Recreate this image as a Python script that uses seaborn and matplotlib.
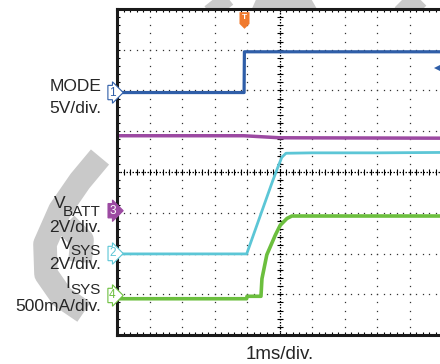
import matplotlib
matplotlib.use("Agg")
import matplotlib.pyplot as plt
import matplotlib.transforms as mtransforms
from matplotlib.lines import Line2D
from matplotlib.path import Path
import numpy as np
import seaborn as sns

# Scope traces, time in ms (1 ms/div), level in divisions from the bottom edge
mode_t = [0, 3.91, 3.92, 10]
mode_div = [5.95, 5.95, 6.95, 6.95]

vbatt_t = [0, 3.9, 5.0, 10]
vbatt_div = [4.89, 4.89, 4.84, 4.83]

vsys_t = [0, 3.99, 4.78, 4.95, 5.07, 5.2, 6, 8, 10]
vsys_div = [1.99, 1.99, 3.76, 4.12, 4.36, 4.46, 4.47, 4.47, 4.48]

isys_t = [0, 3.99, 4.0, 4.43, 4.46, 4.61, 4.87, 5.02, 5.23, 5.38, 10]
isys_div = [0.89, 0.89, 0.95, 0.95, 1.38, 1.97, 2.45, 2.69, 2.86, 2.92, 2.92]

# channel ground markers
ch_labels = ["1", "3", "2", "4"]
ch_levels = [5.95, 3.05, 2.0, 0.97]

trigger_t = 3.91
trig_level = 6.56

blue = "#2f5ea8"
purple = "#9c4aa2"
cyan = "#5cc6d6"
green = "#6cbf3e"
orange = "#f07a2e"
ch_colors = [blue, purple, cyan, green]
ch_filled = [False, True, False, False]

sns.set_style("white")
plt.rcParams["font.family"] = ["Liberation Sans", "DejaVu Sans"]

fig = plt.figure(figsize=(4.4, 3.64), dpi=100)
W, H = 440, 364
ax = fig.add_axes([117 / W, 1 - 335 / H, (442 - 117) / W, (335 - 9) / H])
ax.set_facecolor("white")

# pixel coords (from top-left) -> display
pix = mtransforms.Affine2D().scale(1 / 100, -1 / 100).translate(0, H / 100) + fig.dpi_scale_trans

# grey watermark pieces, mostly hidden behind the white screen
wm = "#c9c9c9"
wm_strokes = [
    [(100, 157), (80, 181), (60, 210), (45, 244), (46, 274), (62, 297), (84, 312)],
    [(66, 224), (82, 240), (80, 262)],
    [(205, -12), (224, 12)],
    [(245, -6), (290, 14)],
    [(320, -6), (285, 14)],
    [(392, -12), (418, 14)],
]
for pts in wm_strokes:
    xs, ys = zip(*pts)
    fig.add_artist(Line2D(xs, ys, transform=pix, color=wm, lw=17,
                          solid_joinstyle="round", solid_capstyle="butt",
                          zorder=-1))

ax.set_xlim(0, 10)
ax.set_ylim(0, 8)

# dotted graticule
fine = np.arange(0, 10.01, 0.2)
fine_y = np.arange(0, 8.01, 0.2)
for gx in range(1, 10):
    if gx == 5:
        continue
    ax.plot([gx] * len(fine_y), fine_y, ls="none", marker="s", ms=0.9,
            color="#333333", mew=0)
for gy in range(1, 8):
    if gy == 4:
        continue
    ax.plot(fine, [gy] * len(fine), ls="none", marker="s", ms=0.9,
            color="#333333", mew=0)
ax.axvline(5, ls=(0, (1.2, 1.2)), lw=0.9, color="black")
ax.axhline(4, ls=(0, (1.2, 1.2)), lw=0.9, color="black")
ax.plot([5] * len(fine_y), fine_y, ls="none", marker="_", ms=4, mew=0.8,
        color="black")
ax.plot(fine, [4] * len(fine), ls="none", marker="|", ms=4, mew=0.8,
        color="black")

# traces
sns.lineplot(x=vbatt_t, y=vbatt_div, estimator=None, sort=False, color=purple,
             lw=2.5, ax=ax)
sns.lineplot(x=mode_t, y=mode_div, estimator=None, sort=False, color=blue,
             lw=2.3, ax=ax)
sns.lineplot(x=vsys_t, y=vsys_div, estimator=None, sort=False, color=cyan,
             lw=2.0, ax=ax)
sns.lineplot(x=isys_t, y=isys_div, estimator=None, sort=False, color=green,
             lw=2.6, ax=ax)

# channel markers on the left edge
blend = mtransforms.blended_transform_factory(ax.transAxes, ax.transData)
for lab, lev, col, filled in zip(ch_labels, ch_levels, ch_colors, ch_filled):
    ax.text(-0.004, lev, lab, transform=blend, ha="right", va="center",
            fontsize=8.5, color="white" if filled else col, clip_on=False,
            bbox=dict(boxstyle="rarrow,pad=0.1", fc=col if filled else "white",
                      ec=col, lw=0.8))

# trigger marker
pent = Path([(-0.6, 1), (0.6, 1), (0.6, -0.4), (0, -1), (-0.6, -0.4), (-0.6, 1)])
ax.plot([trigger_t], [7.74], marker=pent, ms=12, color=orange, mew=0,
        clip_on=False)
ax.text(trigger_t, 7.8, "T", ha="center", va="center", fontsize=6,
        color="white", fontweight="bold")
ax.plot([9.87], [trig_level], marker="<", ms=5.5, color=blue, mew=0,
        clip_on=False)

# frame and small ticks
for s in ["top", "left", "bottom"]:
    ax.spines[s].set_linewidth(2.2)
    ax.spines[s].set_color("#1a1a1a")
ax.spines["right"].set_visible(False)
ax.set_xticks(range(0, 11))
ax.set_yticks(range(0, 9))
ax.set_xticks(fine, minor=True)
ax.set_yticks(fine_y, minor=True)
ax.tick_params(which="both", direction="in", length=2.5, width=0.8,
               top=True, bottom=True, left=True, right=False,
               labelbottom=False, labelleft=False, color="black")
ax.set_xlabel("")
ax.set_ylabel("")

# labels
fs = 12.5
fs_sub = 11
xr = 101 / W
renderer = fig.canvas.get_renderer()


def label(text, base):
    fig.text(xr, 1 - base / H, text, ha="right", va="baseline", fontsize=fs)


def sub_label(main, sub, base, sub_base, kern):
    t = fig.text(xr, 1 - sub_base / H, sub, ha="right", va="baseline",
                 fontsize=fs_sub)
    x0 = t.get_window_extent(renderer).x0 / fig.bbox.width
    fig.text(x0 + kern / W, 1 - base / H, main, ha="right", va="baseline",
             fontsize=fs)


label("MODE", 91)
label("5V/div.", 113)
sub_label("V", "BATT", 208, 216, 2)
label("2V/div.", 232)
sub_label("V", "SYS", 249, 255, 2)
label("2V/div.", 269)
sub_label("I", "SYS", 288, 294, -0.5)
label("500mA/div.", 311)
fig.text(280 / W, 1 - 359 / H, "1ms/div.", ha="center", va="baseline",
         fontsize=13.5)

fig.savefig("out.png", dpi=100)
